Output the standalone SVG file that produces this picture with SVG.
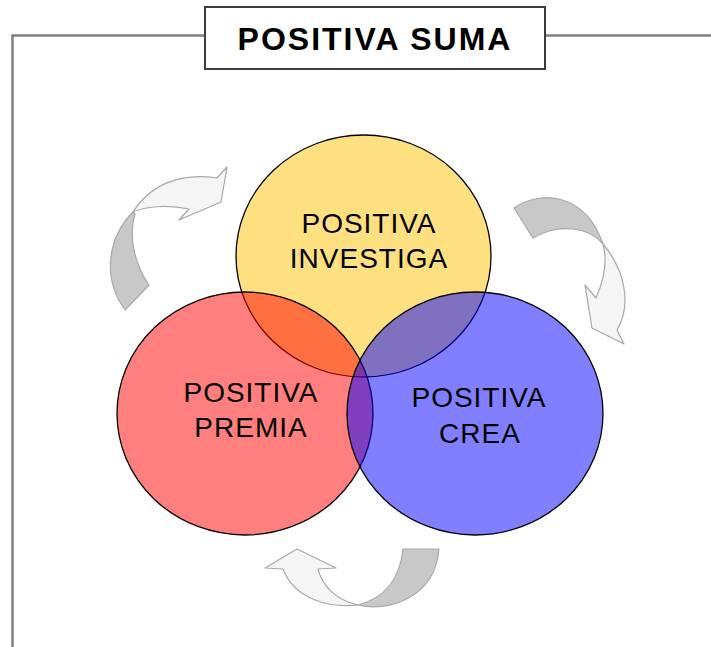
<svg xmlns="http://www.w3.org/2000/svg" width="711" height="647" viewBox="0 0 711 647">
<style>
.frame{fill:none;stroke:#808080;stroke-width:2.5}
.title{fill:#fff;stroke:#3c3c3c;stroke-width:2}
.tt{font-family:"Liberation Sans",Arial,sans-serif;font-weight:bold;font-size:32px;letter-spacing:2px;text-anchor:middle;fill:#000}
.lbl{font-family:"Liberation Sans",Arial,sans-serif;font-size:28px;letter-spacing:1px;text-anchor:middle;fill:#000}
.circ{stroke:#000;stroke-width:1.3}
.dark{fill:#c8c8c8;stroke:#a8a8a8;stroke-width:1.2;stroke-linejoin:round}
.light{fill:#f5f5f5;stroke:#a8a8a8;stroke-width:1.2;stroke-linejoin:round}
</style>
<rect width="711" height="647" fill="#fff"/>
<g id="frame">
<path class="frame" d="M12.5,647 V35.5 H205 M545,35.5 H711"/>
</g>
<g id="title">
<rect class="title" x="205" y="7" width="340" height="62"/>
<text class="tt" x="375" y="50">POSITIVA SUMA</text>
</g>
<g id="connectors">
<g id="arrow-left">
<path class="dark" d="M133,212 C110,235 100,275 125,310 L149,285 C135,265 128,237 135,214 Z"/>
<path class="light" d="M133,212 C150,185 180,172 217,178 L227,167 L221,202 L179,220 L189,209 C165,204 145,207 133,212 Z"/>
</g>
<g id="arrow-right">
<path class="dark" d="M514,208 C540,190 585,192 603,244 C590,228 560,222 533,238 Z"/>
<path class="light" d="M603,244 C625,270 632,305 617,330 L624,344 L592,328 L585,285 L596,298 C603,282 608,262 603,244 Z"/>
</g>
<g id="arrow-bottom">
<path class="dark" d="M358,605 C385,612 435,600 439,549 L403,549 C400,578 385,598 358,605 Z"/>
<path class="light" d="M358,605 C330,608 295,600 283,569 L265,568 L297,549 L336,568 L318,569 C322,585 335,600 358,605 Z"/>
</g>
</g>
<g id="investiga">
<ellipse class="circ" cx="363.5" cy="256" rx="127.5" ry="121" fill="#ffe080"/>
</g>
<g id="premia">
<ellipse class="circ" cx="245" cy="413.5" rx="128" ry="121.5" fill="rgba(255,0,0,0.5)"/>
</g>
<g id="crea">
<ellipse class="circ" cx="475" cy="413.5" rx="128" ry="121.5" fill="rgba(0,0,255,0.5)"/>
</g>
<g id="labels">
<text class="lbl" x="369" y="233">POSITIVA</text>
<text class="lbl" x="369" y="268">INVESTIGA</text>
<text class="lbl" x="251" y="402">POSITIVA</text>
<text class="lbl" x="251" y="437">PREMIA</text>
<text class="lbl" x="479" y="407">POSITIVA</text>
<text class="lbl" x="480" y="443">CREA</text>
</g>
</svg>
